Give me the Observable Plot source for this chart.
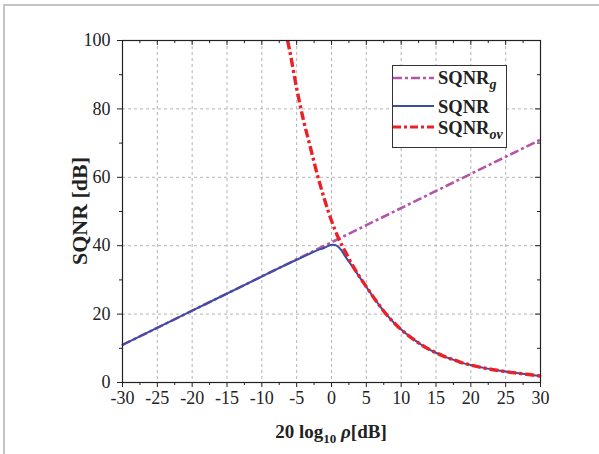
<!DOCTYPE html>
<html>
<head>
<meta charset="utf-8">
<script src="https://cdn.jsdelivr.net/npm/d3@7"></script>
<script src="https://cdn.jsdelivr.net/npm/@observablehq/plot@0.6"></script>
<style>
  html, body { margin: 0; padding: 0; background: #fff; }
  #wrap { position: relative; width: 599px; height: 454px; overflow: hidden; font-family: "Liberation Serif", "Times New Roman", serif; }
  #border { position: absolute; left: 3px; top: 4px; width: 620px; height: 480px; border-left: 2px solid #c4c4c8; border-top: 2px solid #c4c4c8; }
  #chart { position: absolute; left: 0; top: 0; }
  #overlay { position: absolute; left: 0; top: 0; pointer-events: none; }
  #legend { position: absolute; left: 392px; top: 65px; width: 113px; height: 81px; border: 1px solid #333; background: #fff; }
</style>
</head>
<body>
<div id="wrap">
  <div id="border"></div>
  <div id="chart"></div>
  <svg id="overlay" width="599" height="454"></svg>
  <div id="legend"></div>
</div>
<script>
// ---- data ----
const xTicks = [-30, -25, -20, -15, -10, -5, 0, 5, 10, 15, 20, 25, 30];
const xMinor = [-27.5, -22.5, -17.5, -12.5, -7.5, -2.5, 2.5, 7.5, 12.5, 17.5, 22.5, 27.5];
const yTicks = [0, 20, 40, 60, 80, 100];
const yMinor = [10, 30, 50, 70, 90];
const xGrid = [-25, -20, -15, -10, -5, 0, 5, 10, 15, 20, 25];
const yGrid = [20, 40, 60, 80];

// SQNR_g (straight line)
const gX = [-30, 0, 30];
const gY = [11, 41, 71];

// SQNR (overall)
const sX = [-30, -20, -10, -5, -4, -3, -2, -1, -0.5, 0, 0.5, 1, 1.5, 2, 3, 4, 5, 6, 7, 8, 9, 10, 11, 12, 13, 14, 15, 16, 17, 18, 19, 20, 22, 24, 26, 28, 30];
const sY = [11, 21, 31, 35.9, 36.8, 37.8, 38.7, 39.4, 39.9, 40.3, 40.2, 39.6, 38.4, 36.8, 33.9, 30.9, 28.0, 25.0, 22.2, 19.6, 17.4, 15.5, 13.8, 12.3, 10.9, 9.7, 8.7, 7.8, 7.0, 6.3, 5.6, 5.1, 4.2, 3.5, 2.9, 2.4, 1.9];

// SQNR_ov
const oX = [-6.3, -6, -5, -4, -3, -2, -1, 0, 1, 2, 3, 4, 5, 6, 7, 8, 9, 10, 11, 12, 13, 14, 15, 16, 17, 18, 19, 20, 22, 24, 26, 28, 30];
const oY = [100, 97, 86, 76.5, 68.5, 60.5, 53.5, 47.3, 42.2, 38.2, 34.3, 31, 28, 25, 22.2, 19.6, 17.4, 15.5, 13.8, 12.3, 10.9, 9.7, 8.7, 7.8, 7.0, 6.3, 5.6, 5.1, 4.2, 3.5, 2.9, 2.4, 1.9];

const colG = "#b455aa", colS = "#3c4ea4", colO = "#ec2128";
const serif = "'Liberation Serif', 'Times New Roman', serif";

const chart = Plot.plot({
  width: 599, height: 454,
  marginLeft: 122, marginRight: 59, marginTop: 40, marginBottom: 72,
  x: { domain: [-30, 30] },
  y: { domain: [0, 100] },
  style: { fontFamily: serif, fontSize: "18px", color: "#222", background: "transparent", overflow: "visible" },
  marks: [
    Plot.gridX(xGrid, { stroke: "#b4b4b4", strokeOpacity: 1, strokeDasharray: "3,3" }),
    Plot.gridY(yGrid, { stroke: "#b4b4b4", strokeOpacity: 1, strokeDasharray: "3,3" }),
    Plot.line(gY, { x: gX, y: gY, stroke: colG, strokeWidth: 2.6, strokeDasharray: "9,3,3,3", strokeLinecap: "butt" }),
    Plot.line(sY, { x: sX, y: sY, stroke: colS, strokeWidth: 2, curve: "monotone-x" }),
    Plot.line(oY, { x: oX, y: oY, stroke: colO, strokeWidth: 3.4, strokeDasharray: "9,3,3,3", strokeLinecap: "butt", curve: "monotone-x" }),
    Plot.frame({ stroke: "#222", strokeWidth: 1.2 }),
    Plot.ruleX(xTicks, { y1: 100, y2: 98.55, stroke: "#222" }),
    Plot.ruleX(xMinor, { y1: 100, y2: 99.1, stroke: "#222" }),
    Plot.ruleY(yTicks, { x1: 30, x2: 29.28, stroke: "#222" }),
    Plot.ruleY(yMinor, { x1: 30, x2: 29.57, stroke: "#222" }),
    Plot.axisX(xTicks, { tickSize: 5, tickPadding: 4, label: null, tickFormat: d => String(d) }),
    Plot.axisX(xMinor, { tickSize: 3, label: null, tickFormat: () => "" }),
    Plot.axisY(yTicks, { tickSize: 5, tickPadding: 7, label: null, tickFormat: d => String(d) }),
    Plot.axisY(yMinor, { tickSize: 3, label: null, tickFormat: () => "" })
  ]
});
document.getElementById("chart").appendChild(chart);

// axis titles
const ov = document.getElementById("overlay");
ov.innerHTML = `
  <text x="331" y="438" text-anchor="middle" font-family="${serif}" font-weight="bold" font-size="19" fill="#222">20 log<tspan font-size="13" dy="5">10</tspan><tspan dy="-5"> </tspan><tspan font-style="italic">ρ</tspan>[dB]</text>
  <text transform="translate(87,211) rotate(-90)" text-anchor="middle" font-family="${serif}" font-weight="bold" font-size="22" fill="#222">SQNR [dB]</text>
`;

// legend
const lg = document.getElementById("legend");
const rows = [
  { c: colG, w: 2.6, dash: "9,3,3,3", ly: 12, ty: 18, sub: "g" },
  { c: colS, w: 2, dash: null, ly: 40, ty: 47, sub: "" },
  { c: colO, w: 3.2, dash: "8,3,3,3", ly: 61, ty: 68, sub: "ov" }
];
lg.innerHTML = `<svg width="113" height="81">${rows.map(r => `
  <line x1="0" x2="41" y1="${r.ly}" y2="${r.ly}" stroke="${r.c}" stroke-width="${r.w}" ${r.dash ? `stroke-dasharray="${r.dash}"` : ""}/>
  <text x="45" y="${r.ty}" font-family="${serif}" font-weight="bold" font-size="18.5" fill="#222">SQNR${r.sub ? `<tspan font-style="italic" font-size="14" dy="5">${r.sub}</tspan>` : ""}</text>`).join("")}
</svg>`;
</script>
</body>
</html>
